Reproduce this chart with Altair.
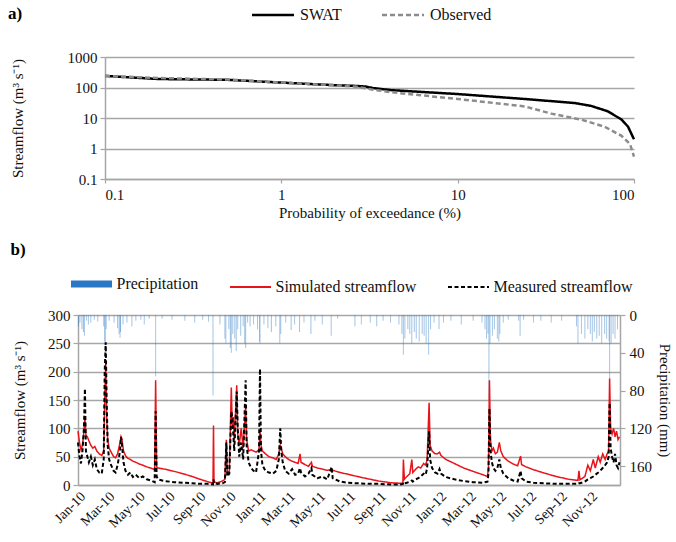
import altair as alt
import pandas as pd

FONT = "Liberation Serif"
GRID = "#a6a6a6"

# ---------------- Panel a: flow duration curves ----------------
fdc_p_swat = [0.1, 0.2, 0.5, 1, 2, 2.7, 3.0, 3.3, 4.2, 10, 24, 46, 57, 71, 85, 92.5, 100]
fdc_q_swat = [240, 190, 178, 145, 119, 112, 108, 96, 82, 61, 42, 31, 25, 16.6, 8.9, 5.2, 2.0]
fdc_p_obs = [0.1, 0.2, 0.5, 1, 2, 2.7, 3.3, 4.2, 10, 24, 34, 50, 68, 85, 95, 100]
fdc_q_obs = [240, 205, 182, 145, 118, 105, 85, 70, 42, 24, 13.9, 8.9, 5.2, 2.6, 1.4, 0.54]
fdc_series = ["SWAT", "Observed"]

# ---------------- Panel b: daily series ----------------
flow_dates = [
    "2010-01-01", "2010-01-04", "2010-01-07", "2010-01-10", "2010-01-13", "2010-01-15", "2010-01-17", "2010-01-20", "2010-01-23", "2010-01-27", "2010-01-31",
    "2010-02-04", "2010-02-08", "2010-02-13", "2010-02-18", "2010-02-22", "2010-02-24", "2010-02-26", "2010-02-28",
    "2010-03-02", "2010-03-05", "2010-03-09", "2010-03-14", "2010-03-18", "2010-03-22", "2010-03-27", "2010-03-29", "2010-03-31",
    "2010-04-03", "2010-04-07", "2010-04-12", "2010-04-17", "2010-04-22", "2010-04-28",
    "2010-05-05", "2010-05-12", "2010-05-20", "2010-05-28",
    "2010-06-05", "2010-06-07", "2010-06-09", "2010-06-12", "2010-06-25",
    "2010-07-15", "2010-08-01", "2010-08-20", "2010-09-05", "2010-09-20",
    "2010-10-01", "2010-10-02", "2010-10-03", "2010-10-10", "2010-10-20", "2010-10-25", "2010-10-28", "2010-10-30",
    "2010-11-03", "2010-11-07", "2010-11-09", "2010-11-11", "2010-11-13", "2010-11-18", "2010-11-20", "2010-11-23", "2010-11-27",
    "2010-12-01", "2010-12-06", "2010-12-08", "2010-12-12", "2010-12-17", "2010-12-22", "2010-12-27",
    "2011-01-02", "2011-01-04", "2011-01-06", "2011-01-09", "2011-01-15", "2011-01-22", "2011-01-30",
    "2011-02-06", "2011-02-11", "2011-02-14", "2011-02-16", "2011-02-19", "2011-02-24",
    "2011-03-03", "2011-03-10", "2011-03-16", "2011-03-22", "2011-03-26", "2011-03-28",
    "2011-04-05", "2011-04-12", "2011-04-18", "2011-04-20", "2011-04-30",
    "2011-05-10", "2011-05-20", "2011-05-29", "2011-05-31",
    "2011-06-15", "2011-07-01", "2011-07-20", "2011-08-10", "2011-09-01", "2011-09-25",
    "2011-10-15", "2011-10-20", "2011-10-21", "2011-10-23", "2011-10-28",
    "2011-11-03", "2011-11-07", "2011-11-09", "2011-11-15", "2011-11-20", "2011-11-25",
    "2011-12-01", "2011-12-05", "2011-12-08", "2011-12-12", "2011-12-14", "2011-12-18", "2011-12-24", "2011-12-29",
    "2012-01-02", "2012-01-05", "2012-01-15", "2012-02-01", "2012-02-20", "2012-03-10", "2012-03-30",
    "2012-04-08", "2012-04-10", "2012-04-12", "2012-04-14", "2012-04-17", "2012-04-20", "2012-04-24", "2012-04-28",
    "2012-05-02", "2012-05-05", "2012-05-10", "2012-05-20", "2012-05-30",
    "2012-06-08", "2012-06-14", "2012-06-16", "2012-06-25",
    "2012-07-10", "2012-08-01", "2012-08-25", "2012-09-20",
    "2012-10-08", "2012-10-10", "2012-10-12", "2012-10-22", "2012-10-28",
    "2012-11-02", "2012-11-08", "2012-11-12", "2012-11-18", "2012-11-22", "2012-11-27",
    "2012-12-02", "2012-12-06", "2012-12-09", "2012-12-11", "2012-12-13", "2012-12-16", "2012-12-19", "2012-12-22", "2012-12-25", "2012-12-28", "2012-12-31",
]
sim_flow = [
    95, 75, 62, 70, 95, 120, 88, 85, 78, 70, 65,
    68, 60, 55, 52, 60, 150, 215, 120,
    80, 65, 58, 50, 48, 55, 75, 85, 80,
    60, 52, 47, 45, 42, 40,
    37, 35, 32, 30,
    27, 185, 32, 30, 28,
    24, 20, 15, 10, 6,
    3, 105, 5, 4, 7, 10, 80, 20,
    25, 172, 100, 120, 80, 176, 90, 70, 100,
    65, 140, 80, 60, 62, 60, 58,
    62, 95, 70, 60, 55, 50, 48,
    45, 55, 70, 65, 55, 50,
    45, 42, 40, 38, 55, 40,
    36, 33, 40, 33, 30,
    28, 26, 27, 26,
    22, 19, 15, 11, 7, 4,
    3, 3, 45, 10, 15,
    20, 45, 22, 28, 32, 30,
    38, 35, 45, 145, 70, 60, 55, 55,
    58, 52, 45, 38, 30, 24, 18,
    15, 30, 185, 80, 60, 65, 55, 58,
    75, 60, 50, 42, 37,
    34, 51, 36, 32,
    27, 21, 15, 10,
    8, 25, 9, 15, 35,
    25, 45, 30, 50, 40, 55,
    45, 55, 60, 188, 100, 90, 100, 85, 95, 80, 85,
]
meas_flow = [
    75, 50, 38, 60, 100, 170, 60, 50, 40, 50, 35,
    45, 28, 22, 20, 45, 200, 252, 150,
    70, 45, 35, 25, 22, 35, 60, 85, 70,
    40, 25, 18, 22, 14, 18,
    12, 15, 10, 8,
    5, 130, 15, 10, 7,
    5, 4, 3, 2, 2,
    1, 10, 3, 2, 3, 5, 75, 15,
    20, 130, 120, 90, 60, 165, 100, 50, 75,
    45, 185, 70, 40, 30, 25, 22,
    60, 205, 60, 35, 25, 22, 20,
    25, 45, 100, 60, 40, 25,
    20, 28, 18, 20, 30, 22,
    15, 20, 30, 18, 12,
    15, 10, 32, 12,
    6, 4, 3, 2, 2, 1,
    1, 2, 5, 3, 4,
    6, 8, 6, 10, 12, 15,
    20, 18, 30, 95, 45, 30, 22, 20,
    28, 20, 14, 10, 7, 5, 4,
    6, 20, 135, 60, 40, 30, 25, 30,
    45, 30, 20, 12, 8,
    6, 25, 12, 6,
    4, 3, 2, 2,
    2, 3, 3, 6, 10,
    12, 15, 18, 22, 25, 30,
    35, 40, 50, 145, 65, 50, 40, 55, 35, 30, 40,
]

precip_dates = [
    "2010-01-02", "2010-01-05", "2010-01-09", "2010-01-12", "2010-01-14", "2010-01-18", "2010-01-22", "2010-01-27",
    "2010-02-03", "2010-02-10", "2010-02-22", "2010-02-24", "2010-02-25", "2010-02-27",
    "2010-03-05", "2010-03-15", "2010-03-22", "2010-03-25", "2010-03-27", "2010-03-28",
    "2010-04-02", "2010-04-10", "2010-04-20", "2010-04-28", "2010-05-08", "2010-05-15", "2010-05-25",
    "2010-06-07", "2010-06-20", "2010-07-10", "2010-08-05", "2010-08-25", "2010-09-10", "2010-09-22",
    "2010-10-01", "2010-10-15", "2010-10-25", "2010-10-27",
    "2010-11-02", "2010-11-05", "2010-11-07", "2010-11-10", "2010-11-14", "2010-11-17", "2010-11-20", "2010-11-26",
    "2010-12-01", "2010-12-04", "2010-12-06", "2010-12-10", "2010-12-15", "2010-12-22", "2010-12-30",
    "2011-01-03", "2011-01-04", "2011-01-12", "2011-01-20", "2011-01-27",
    "2011-02-05", "2011-02-13", "2011-02-15", "2011-02-25", "2011-03-08", "2011-03-15", "2011-03-25",
    "2011-04-03", "2011-04-17", "2011-04-25", "2011-05-10", "2011-05-28", "2011-06-10",
    "2011-07-15", "2011-07-28", "2011-08-15", "2011-08-28", "2011-09-10", "2011-09-25",
    "2011-10-12", "2011-10-18", "2011-10-21", "2011-10-24", "2011-10-30",
    "2011-11-03", "2011-11-07", "2011-11-12", "2011-11-16", "2011-11-22", "2011-11-28",
    "2011-12-02", "2011-12-06", "2011-12-11", "2011-12-15", "2011-12-22",
    "2012-01-01", "2012-01-10", "2012-01-25", "2012-02-15", "2012-03-10", "2012-03-28",
    "2012-04-03", "2012-04-06", "2012-04-09", "2012-04-11", "2012-04-13", "2012-04-18", "2012-04-22", "2012-04-28",
    "2012-05-01", "2012-05-03", "2012-05-10", "2012-05-20", "2012-06-10", "2012-06-13", "2012-06-20",
    "2012-07-10", "2012-07-25", "2012-08-15", "2012-09-05",
    "2012-10-05", "2012-10-08", "2012-10-15", "2012-10-22", "2012-10-28",
    "2012-11-02", "2012-11-06", "2012-11-10", "2012-11-15", "2012-11-20", "2012-11-25",
    "2012-12-01", "2012-12-05", "2012-12-10", "2012-12-11", "2012-12-14", "2012-12-18", "2012-12-22", "2012-12-27",
]
precip_mm = [
    12, 8, 15, 18, 22, 6, 10, 8,
    5, 7, 12, 28, 32, 15,
    6, 8, 14, 20, 24, 18,
    10, 8, 12, 6, 5, 10, 4,
    65, 4, 5, 6, 8, 5, 7,
    85, 10, 25, 30,
    15, 35, 40, 20, 25, 38, 15, 22,
    12, 30, 35, 8, 12, 10, 15,
    28, 30, 10, 14, 18,
    12, 30, 20, 8, 16, 10, 18,
    8, 20, 6, 10, 22, 4,
    12, 10, 8, 12, 6, 8,
    10, 20, 42, 25, 15,
    20, 30, 18, 25, 28, 20,
    22, 30, 42, 15, 8,
    15, 8, 6, 10, 6, 8,
    15, 25, 20, 90, 30, 22, 15, 25,
    28, 20, 8, 5, 6, 22, 5,
    8, 6, 8, 6,
    12, 30, 20, 25, 15,
    20, 28, 18, 25, 22, 30,
    20, 25, 28, 68, 30, 20, 25, 15,
]

B_SERIES = ["Precipitation", "Simulated streamflow", "Measured streamflow"]

# ---------------- build tables ----------------
df_a = pd.concat([
    pd.DataFrame({"p": fdc_p_swat, "q": fdc_q_swat, "series": fdc_series[0]}),
    pd.DataFrame({"p": fdc_p_obs, "q": fdc_q_obs, "series": fdc_series[1]}),
])
df_flow = pd.concat([
    pd.DataFrame({"date": flow_dates, "q": sim_flow, "series": B_SERIES[1]}),
    pd.DataFrame({"date": flow_dates, "q": meas_flow, "series": B_SERIES[2]}),
])
df_p = pd.DataFrame({"date": precip_dates, "mm": precip_mm, "series": B_SERIES[0]})

# ---------------- panel a ----------------
SHIFT = 27  # panel a's plot starts further right than panel b's
leg_a = alt.Legend(
    title=None, orient="none", direction="horizontal", legendX=174, legendY=-50,
    symbolType="stroke", symbolSize=1764, symbolOffset=13, symbolOpacity=1,
    symbolStrokeWidth={"expr": "datum.value === 'SWAT' ? 2.6 : 2.6"},
    labelFont=FONT, labelFontSize=16, labelColor="#111", labelOffset=19, columnPadding=34,
)
panel_a = alt.Chart(df_a).mark_line(strokeWidth=2.5).encode(
    x=alt.X("p:Q", scale=alt.Scale(type="log", domain=[0.1, 100], nice=False, range=[SHIFT, SHIFT + 529]),
            axis=alt.Axis(values=[0.1, 1, 10, 100], format="~g", title="Probability of exceedance (%)",
                          grid=False, ticks=True, tickSize=4, labelPadding=4, titlePadding=3)),
    y=alt.Y("q:Q", scale=alt.Scale(type="log", domain=[0.1, 1000], nice=False),
            axis=alt.Axis(values=[0.1, 1, 10, 100, 1000], format="~g", title="Streamflow (m³ s⁻¹)",
                          grid=True, offset=-SHIFT, ticks=True, tickSize=5, labelPadding=3, titlePadding=42)),
    color=alt.Color("series:N", scale=alt.Scale(domain=fdc_series, range=["#000000", "#8c8c8c"]), legend=leg_a),
    strokeDash=alt.StrokeDash("series:N", scale=alt.Scale(domain=fdc_series, range=[[1, 0], [5, 3]]), legend=leg_a),
).properties(
    width=SHIFT + 529, height=122,
    title=alt.TitleParams("a)", anchor="start", font=FONT, fontSize=17, fontWeight="bold", dx=-2, offset=-16),
)

# ---------------- panel b ----------------
color_b = alt.Scale(domain=B_SERIES, range=["#2a78c4", "#e8141b", "#000000"])
dash_b = alt.Scale(domain=B_SERIES, range=[[1, 0], [1, 0], [4, 2.5]])
leg_b = alt.Legend(
    title=None, orient="none", direction="horizontal", legendX=-7, legendY=-39,
    symbolType="stroke", symbolSize=1681, symbolOffset=12.5, symbolOpacity=1,
    symbolStrokeWidth={"expr": "datum.value === 'Precipitation' ? 7 : 1.8"},
    labelFont=FONT, labelFontSize=16, labelColor="#111", labelOffset=17, columnPadding=27,
)

x_b = alt.X("date:T",
            scale=alt.Scale(domain=[alt.DateTime(year=2010, month=1, date=1, utc=True),
                                    alt.DateTime(year=2013, month=1, date=1, utc=True)]),
            axis=alt.Axis(values=[alt.DateTime(year=y, month=m, date=1, utc=True)
                                  for y in (2010, 2011, 2012) for m in (1, 3, 5, 7, 9, 11)],
                          labelExpr="utcFormat(datum.value, '%b-%y')", labelAngle=315,
                          labelOverlap=False, labelFontSize=14,
                          title=None, grid=False, ticks=False, labelPadding=4))

precip_layer = alt.Chart(df_p).mark_rule(strokeWidth=1, opacity=0.45).encode(
    x=x_b,
    y=alt.Y("mm:Q", scale=alt.Scale(domain=[0, 180], reverse=True, nice=False),
            axis=alt.Axis(orient="right", values=[0, 40, 80, 120, 160], title="Precipitation (mm)",
                          grid=False, ticks=True, tickSize=5, labelPadding=4, titlePadding=5)),
    y2=alt.datum(0),
    color=alt.Color("series:N", scale=color_b, legend=leg_b),
    strokeDash=alt.StrokeDash("series:N", scale=dash_b, legend=leg_b),
)

flow_layer = alt.Chart(df_flow).mark_line().encode(
    x=x_b,
    y=alt.Y("q:Q", scale=alt.Scale(domain=[0, 300], nice=False),
            axis=alt.Axis(values=[0, 50, 100, 150, 200, 250, 300], title="Streamflow (m³ s⁻¹)",
                          grid=True, ticks=True, tickSize=5, labelPadding=3, titlePadding=20)),
    color=alt.Color("series:N", scale=color_b, legend=leg_b),
    strokeDash=alt.StrokeDash("series:N", scale=dash_b, legend=leg_b),
    strokeWidth=alt.StrokeWidth("series:N", scale=alt.Scale(domain=B_SERIES[1:], range=[1.5, 2.0]), legend=None),
    order=alt.Order("date:T"),
)

panel_b = alt.layer(precip_layer, flow_layer).resolve_scale(y="independent").properties(
    width=542, height=170,
    title=alt.TitleParams("b)", anchor="start", font=FONT, fontSize=17, fontWeight="bold", dx=-2, offset=17),
)

chart = alt.vconcat(panel_a, panel_b, spacing=21).resolve_scale(
    color="independent", strokeDash="independent", x="independent", y="independent"
).resolve_legend(color="independent", strokeDash="independent").properties(
    padding={"left": 8, "top": 5, "right": 0, "bottom": 0}
).configure_view(stroke=None).configure_axis(
    labelFont=FONT, titleFont=FONT, labelFontSize=15, titleFontSize=15, labelColor="#111",
    titleColor="#111", titleFontWeight="normal", gridColor=GRID, gridWidth=1.5, domainColor=GRID,
    domainWidth=1.5, tickColor=GRID, tickWidth=1.2,
)

chart.save("out.html", embed_options={"renderer": "svg", "actions": False})
